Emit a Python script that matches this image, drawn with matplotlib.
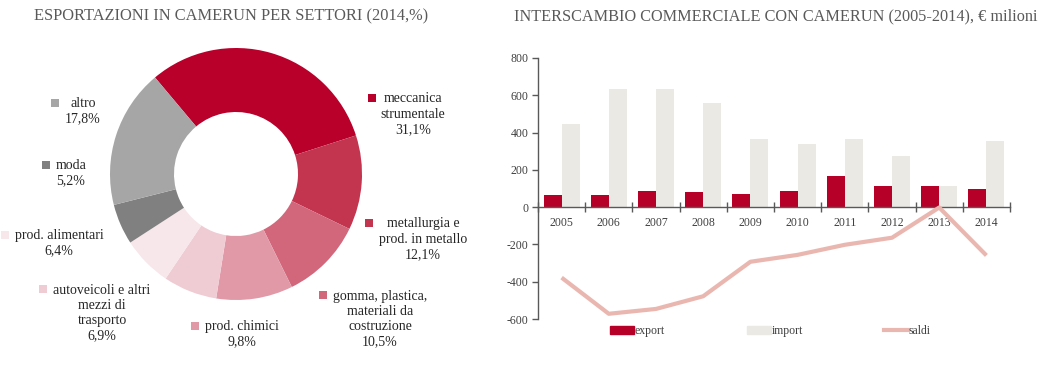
import numpy as np
import matplotlib.pyplot as plt
from matplotlib.patches import Rectangle, Patch
from matplotlib.lines import Line2D

plt.rcParams['font.family'] = ['Liberation Serif', 'DejaVu Serif']
plt.rcParams['axes.unicode_minus'] = False

# --- donut data (2014, %) ---
sectors = ["meccanica\nstrumentale", "metallurgia e\nprod. in metallo",
           "gomma, plastica,\nmateriali da\ncostruzione", "prod. chimici",
           "autoveicoli e altri\nmezzi di\ntrasporto", "prod. alimentari",
           "moda", "altro"]
shares = [31.1, 12.1, 10.5, 9.8, 6.9, 6.4, 5.2, 17.8]
share_labels = ["31,1%", "12,1%", "10,5%", "9,8%", "6,9%", "6,4%", "5,2%", "17,8%"]
sector_colors = ["#B8002B", "#C3344F", "#D2677C", "#E199A7", "#EFCCD3",
                 "#F7E6EA", "#808080", "#A6A6A6"]

# --- trade data (€ milioni) ---
years = ["2005", "2006", "2007", "2008", "2009", "2010", "2011", "2012", "2013", "2014"]
export = [66, 63, 89, 82, 72, 84, 165, 111, 114, 97]
imports = [444, 635, 635, 560, 365, 340, 367, 275, 116, 356]
saldi = [-378, -572, -546, -478, -293, -256, -202, -164, -2, -259]

W, H = 1051, 366
fig = plt.figure(figsize=(W / 100, H / 100), dpi=100)


def fx(px):
    return px / W


def fy(py):
    return 1 - py / H


txt_col = "#262626"
title_col = "#595959"

# ---------------- donut ----------------
cx, cy, half = 236, 174, 130
ax1 = fig.add_axes([fx(cx - half), fy(cy + half), 2 * half / W, 2 * half / H])
ax1.pie(shares, colors=sector_colors, startangle=130, counterclock=False,
        radius=126 / half, wedgeprops=dict(width=64 / half, linewidth=0))
ax1.set_xlim(-1, 1)
ax1.set_ylim(-1, 1)
ax1.set_aspect('equal')
ax1.axis('off')

fig.text(fx(34), fy(16), "ESPORTAZIONI IN CAMERUN PER SETTORI (2014,%)",
         fontsize=11.8, color=title_col, va='center', ha='left')

# label layout: square centre (x, y), text centre x
label_pos = [(372, 98, 413), (369, 223, 423), (323, 295, 380), (195, 326, 242),
             (43, 289, 102), (5, 235, 59), (46, 165, 71), (55, 103, 83)]
line_h = 16
for name, pct, col, (sx, sy, tx) in zip(sectors, share_labels, sector_colors, label_pos):
    fig.patches.append(Rectangle((fx(sx - 4), fy(sy + 4)), 8 / W, 8 / H,
                                 transform=fig.transFigure, color=col, lw=0))
    text = name + "\n" + pct
    n = text.count("\n") + 1
    fig.text(fx(tx), fy(sy + (n - 1) * line_h / 2), text, ha='center', va='center',
             fontsize=10, color=txt_col, linespacing=1.22)

# ---------------- bar + line chart ----------------
x0, x1, ytop, ybot = 538, 1010, 58, 319
ax2 = fig.add_axes([fx(x0), fy(ybot), (x1 - x0) / W, (ybot - ytop) / H])
x = np.arange(len(years))
bw = 0.38
ax2.bar(x - bw / 2, export, width=bw, color="#B70028", zorder=2, label="export")
ax2.bar(x + bw / 2, imports, width=bw, color="#EAE9E4", zorder=2, label="import")
ax2.plot(x, saldi, color="#EAB7B0", lw=3, zorder=4, label="saldi",
         solid_capstyle='butt')

ax2.set_xlim(-0.5, len(years) - 0.5)
ax2.set_ylim(-600, 800)
ax2.set_yticks(np.arange(-600, 801, 200))
ax2.spines['top'].set_visible(False)
ax2.spines['right'].set_visible(False)
ax2.spines['bottom'].set_position(('data', 0))
for s in ('left', 'bottom'):
    ax2.spines[s].set_color("#595959")
    ax2.spines[s].set_linewidth(1)
ax2.set_xticks(x)
ax2.set_xticklabels(years)
ax2.set_xticks(np.arange(-0.5, len(years), 1), minor=True)
ax2.tick_params(axis='x', which='major', length=0, pad=7, labelsize=8.5,
                labelcolor="#404040")
ax2.tick_params(axis='x', which='minor', direction='inout', length=7,
                color="#595959", width=1)
ax2.tick_params(axis='y', direction='out', length=4, color="#595959", width=1,
                labelsize=8.5, labelcolor="#404040", pad=3)
for lab in ax2.get_xticklabels():
    lab.set_zorder(1)

fig.text(fx(514), fy(16), "INTERSCAMBIO COMMERCIALE CON CAMERUN (2005-2014), € milioni",
         fontsize=11.7, color=title_col, va='center', ha='left')

# legend: three separate single-entry legends
handles = [Patch(color="#B70028"), Patch(color="#EAE9E4"),
           Line2D([], [], color="#EAB7B0", lw=3)]
names = ["export", "import", "saldi"]
leg_x = [610, 747, 884]
for h, nm, lx in zip(handles, names, leg_x):
    lg = fig.legend([h], [nm], loc='center left', bbox_to_anchor=(fx(lx), fy(331)),
                    frameon=False, fontsize=8.5, handlelength=2.0,
                    handletextpad=0.1, borderpad=0, borderaxespad=0,
                    labelcolor="#404040")

fig.savefig("out.png", dpi=100)
